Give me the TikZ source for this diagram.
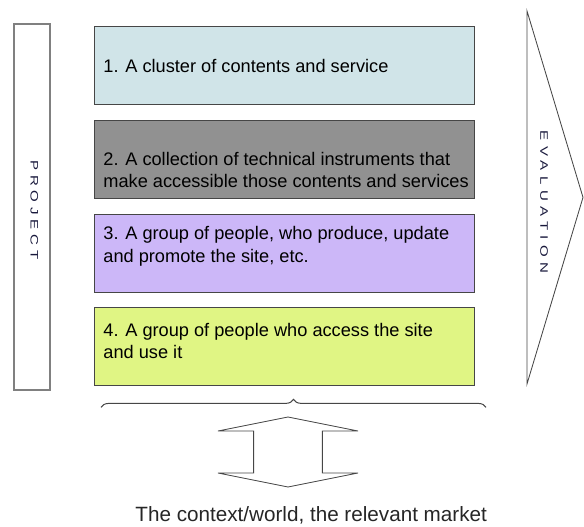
\documentclass[tikz,border=0pt]{standalone}
\usepackage{fontspec}
\setmainfont{Liberation Sans}
\usetikzlibrary{decorations.pathreplacing}

\definecolor{boxblue}{RGB}{208,228,232}
\definecolor{boxgray}{RGB}{145,145,145}
\definecolor{boxlilac}{RGB}{204,183,248}
\definecolor{boxlime}{RGB}{224,245,132}
\definecolor{edge}{RGB}{70,70,70}
\definecolor{vink}{RGB}{25,25,60}

\tikzset{
  layer/.style={draw=edge, line width=0.7pt, minimum width=9.5cm, minimum height=1.95cm, inner sep=0pt},
  layertext/.style={anchor=west, align=left, inner sep=0pt, font=\fontsize{12.95}{16}\selectfont},
  vtext/.style={rotate=-90, yscale=0.72, text=vink, inner sep=0pt}
}

\begin{document}
\begin{tikzpicture}

% Page frame
\useasboundingbox (0,0) rectangle (14.6,13.175);

% Project bar on the left
\node[draw=gray, line width=0.8pt, minimum width=0.9cm, minimum height=9.15cm, inner sep=0pt] (project) at (0.8, 8.0) {};
\node[vtext, font=\fontsize{10.7}{12}\selectfont\addfontfeature{LetterSpace=32}] (projlabel) at (0.86, 7.93) {PROJECT};

% The four layers
\node[layer, fill=boxblue] (L1) at (7.1, 11.525) {};
\node[layer, fill=boxgray] (L2) at (7.1, 9.184) {};
\node[layer, fill=boxlilac] (L3) at (7.1, 6.843) {};
\node[layer, fill=boxlime] (L4) at (7.1, 4.5) {};

% Layer texts
\node[layertext] (T1) at ([xshift=0.24cm]L1.west) {1. A cluster of contents and service};
\node[layertext] (T2) at ([xshift=0.24cm, yshift=-0.26cm]L2.west) {2. A collection of technical instruments that\\make accessible those contents and services};
\node[layertext] (T3) at ([xshift=0.24cm, yshift=0.18cm]L3.west) {3. A group of people, who produce, update\\and promote the site, etc.};
\node[layertext] (T4) at ([xshift=0.24cm, yshift=0.15cm]L4.west) {4. A group of people who access the site\\and use it};

% Evaluation arrow on the right
\coordinate (E1) at (13.175, 12.9);
\coordinate (E2) at (14.575, 8.24);
\coordinate (E3) at (13.175, 3.575);
\draw[edge, line width=0.6pt] (E1) -- (E2) -- (E3) -- cycle;
\node[vtext, font=\fontsize{10.7}{12}\selectfont\addfontfeature{LetterSpace=37}] (evallabel) at (13.6, 8.12) {EVALUATION};

% Brace under the layers
\coordinate (B1) at (2.525, 2.99);
\coordinate (B2) at (12.15, 2.99);
\draw[edge, line width=0.7pt, decorate, decoration={brace, amplitude=0.2cm}] (B1) -- (B2);

% Up-down arrow
\coordinate (U) at (7.2, 2.75);
\coordinate (D) at (7.2, 1.0);
\draw[edge, line width=0.6pt] (U) -- (8.95, 2.4) -- (8.06, 2.4) -- (8.06, 1.35) -- (8.95, 1.35)
  -- (D) -- (5.45, 1.35) -- (6.34, 1.35) -- (6.34, 2.4) -- (5.45, 2.4) -- cycle;

% Bottom caption
\node[anchor=base, inner sep=0pt, text=black!85, font=\fontsize{14.7}{17}\selectfont] (market) at (7.78, 0.125) {The context/world, the relevant market};

\end{tikzpicture}
\end{document}
